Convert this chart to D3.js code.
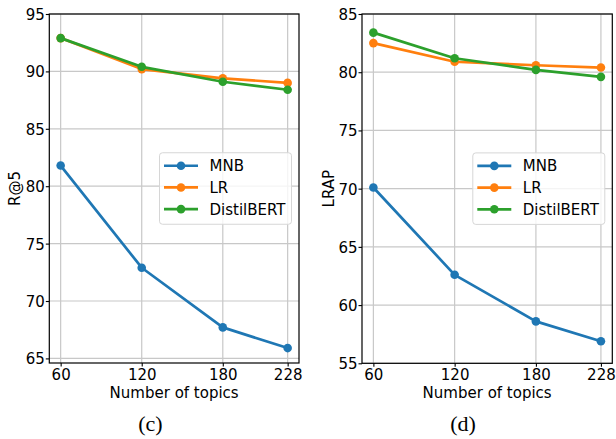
<!DOCTYPE html>
<html><head><meta charset="utf-8">
<script src="https://cdn.jsdelivr.net/npm/d3@7/dist/d3.min.js"></script>
<style>body{margin:0;background:#fff}svg{display:block}</style>
</head><body>
<svg id="c" width="616" height="439"></svg>
<script>
const topics = [60, 120, 180, 228];
const seriesNames = ["MNB", "LR", "DistilBERT"];
const colors = ["#1f77b4", "#ff7f0e", "#2ca02c"];
// Panel (c): R@5
const r5MNB = [81.8, 72.9, 67.7, 65.9];
const r5LR = [92.9, 90.2, 89.4, 89.0];
const r5Distil = [92.9, 90.4, 89.1, 88.4];
const r5Ticks = [65, 70, 75, 80, 85, 90, 95];
// Panel (d): LRAP
const lrapMNB = [70.1, 62.6, 58.6, 56.9];
const lrapLR = [82.5, 80.9, 80.6, 80.4];
const lrapDistil = [83.4, 81.2, 80.2, 79.6];
const lrapTicks = [55, 60, 65, 70, 75, 80, 85];

const svg = d3.select("#c");
const FONT = "DejaVu Sans";

function panel(opt) {
  const {x0, x1, y0, y1, ydom, yticks, ylabel, ylabelX, data, caption, capX} = opt;
  const g = svg.append("g");
  const x = d3.scaleLinear().domain([51.6, 236.4]).range([x0, x1]);
  const y = d3.scaleLinear().domain(ydom).range([y1, y0]);
  // grid
  g.append("g").selectAll("line").data(topics).join("line")
    .attr("x1", d => x(d)).attr("x2", d => x(d)).attr("y1", y0).attr("y2", y1)
    .attr("stroke", "#c8c8c8").attr("stroke-width", 1.2);
  g.append("g").selectAll("line").data(yticks).join("line")
    .attr("x1", x0).attr("x2", x1).attr("y1", d => y(d)).attr("y2", d => y(d))
    .attr("stroke", "#c8c8c8").attr("stroke-width", 1.2);
  // axes
  const ax = g.append("g").attr("transform", `translate(0,${y1})`)
    .call(d3.axisBottom(x).tickValues(topics).tickSize(3.5).tickPadding(2.5).tickFormat(d3.format("d")));
  const ay = g.append("g").attr("transform", `translate(${x0},0)`)
    .call(d3.axisLeft(y).tickValues(yticks).tickSize(3.5).tickPadding(1).tickFormat(d3.format("d")));
  [ax, ay].forEach(a => {
    a.select(".domain").remove();
    a.selectAll("line").attr("stroke", "#000").attr("stroke-width", 1.1);
    a.selectAll("text").attr("font-family", FONT).attr("font-size", 15).attr("fill", "#000");
  });
  ay.selectAll("text").attr("dy", "0.36em");
  // frame
  g.append("rect").attr("x", x0).attr("y", y0).attr("width", x1 - x0).attr("height", y1 - y0)
    .attr("fill", "none").attr("stroke", "#000").attr("stroke-width", 1.2);
  // series
  const line = d3.line().x((d, i) => x(topics[i])).y(d => y(d));
  data.forEach((vals, k) => {
    g.append("path").attr("d", line(vals)).attr("fill", "none")
      .attr("stroke", colors[k]).attr("stroke-width", 2.7).attr("stroke-linejoin", "round");
    g.append("g").selectAll("circle").data(vals).join("circle")
      .attr("cx", (d, i) => x(topics[i])).attr("cy", d => y(d)).attr("r", 4.3)
      .attr("fill", colors[k]);
  });
  // labels
  g.append("text").attr("x", (x0 + x1) / 2).attr("y", 397.5).attr("text-anchor", "middle")
    .attr("font-family", FONT).attr("font-size", 15).text("Number of topics");
  g.append("text").attr("transform", `translate(${ylabelX},${(y0 + y1) / 2}) rotate(-90)`)
    .attr("text-anchor", "middle").attr("font-family", FONT).attr("font-size", 15).text(ylabel);
  // legend
  const lw = 132, lh = 71.5;
  const lx = x1 - 7.5 - lw, ly = (y0 + y1) / 2 - lh / 2;
  const lg = g.append("g");
  lg.append("rect").attr("x", lx).attr("y", ly).attr("width", lw).attr("height", lh)
    .attr("rx", 3).attr("fill", "#fff").attr("fill-opacity", 0.8)
    .attr("stroke", "#d6d6d6").attr("stroke-width", 1);
  seriesNames.forEach((nm, k) => {
    const yy = ly + 13 + k * 21.7;
    lg.append("line").attr("x1", lx + 4.5).attr("x2", lx + 38.5).attr("y1", yy).attr("y2", yy)
      .attr("stroke", colors[k]).attr("stroke-width", 2.7);
    lg.append("circle").attr("cx", lx + 21.5).attr("cy", yy).attr("r", 4.3).attr("fill", colors[k]);
    lg.append("text").attr("x", lx + 50).attr("y", yy).attr("dy", "0.36em")
      .attr("font-family", FONT).attr("font-size", 15).text(nm);
  });
  // caption
  svg.append("text").attr("x", capX).attr("y", 430.5).attr("text-anchor", "middle")
    .attr("font-family", "Liberation Serif").attr("font-size", 22).text(caption);
}

panel({x0: 49.3, x1: 299, y0: 14, y1: 363, ydom: [64.6, 95], yticks: r5Ticks, ylabel: "R@5",
  ylabelX: 19.5, data: [r5MNB, r5LR, r5Distil], caption: "(c)", capX: 150.5});
panel({x0: 362, x1: 612.3, y0: 14, y1: 363.3, ydom: [55, 85], yticks: lrapTicks, ylabel: "LRAP",
  ylabelX: 333.5, data: [lrapMNB, lrapLR, lrapDistil], caption: "(d)", capX: 463});
</script>
</body></html>
